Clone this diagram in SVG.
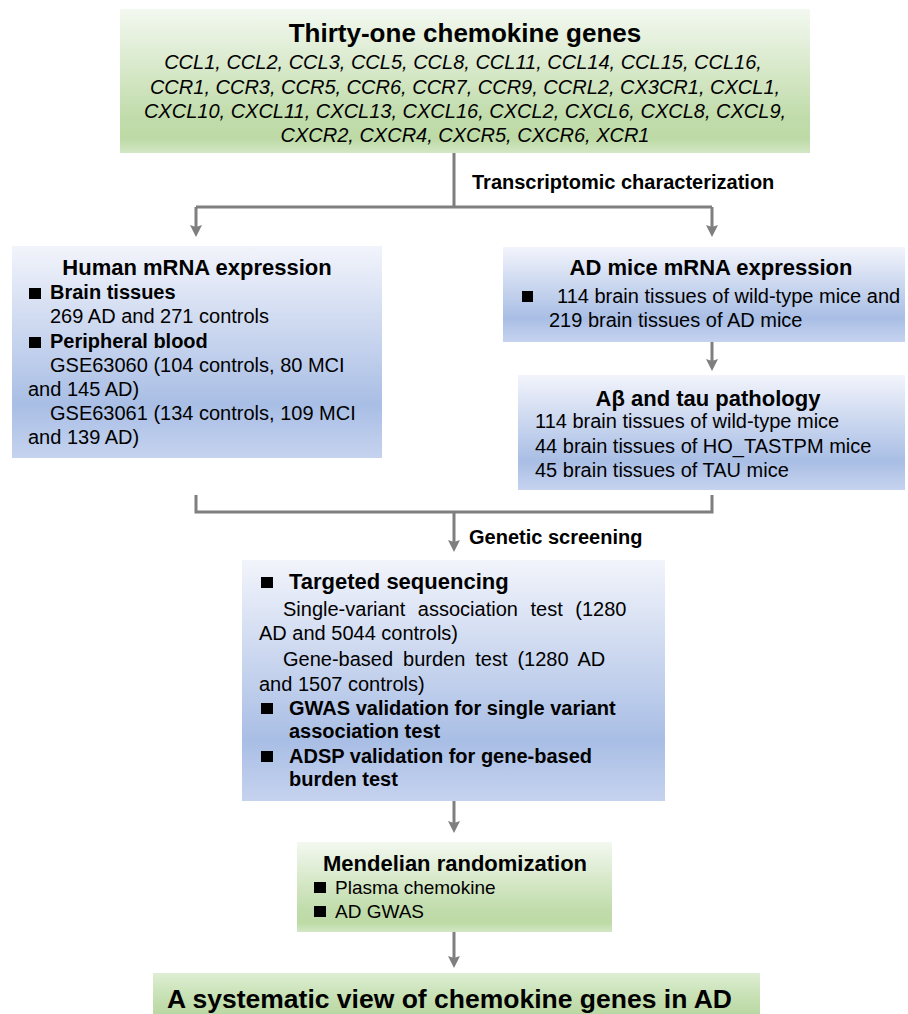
<svg xmlns="http://www.w3.org/2000/svg" width="908" height="1014" viewBox="0 0 908 1014">
<defs>
<linearGradient id="gGreen" x1="0" y1="0" x2="0" y2="1">
<stop offset="0" stop-color="#f3f8f0"/>
<stop offset="0.75" stop-color="#c1dcab"/>
<stop offset="0.9" stop-color="#bddaa6"/>
<stop offset="1" stop-color="#d3e7c5"/>
</linearGradient>
<linearGradient id="gFinal" x1="0" y1="0" x2="0" y2="1">
<stop offset="0" stop-color="#deeed3"/>
<stop offset="0.6" stop-color="#c6e0b3"/>
<stop offset="1" stop-color="#bad8a3"/>
</linearGradient>
<linearGradient id="gBlue" x1="0" y1="0" x2="0" y2="1">
<stop offset="0" stop-color="#f2f4fb"/>
<stop offset="0.75" stop-color="#a9bee5"/>
<stop offset="1" stop-color="#c6d3ef"/>
</linearGradient>
<marker id="arr" viewBox="0 0 12 12" refX="3" refY="6" markerWidth="12" markerHeight="12" markerUnits="userSpaceOnUse" orient="auto">
<path d="M0,0 L12,6 L0,12 L2,6 z" fill="#7f7f7f"/>
</marker>
<style>
text{font-family:"Liberation Sans",Arial,sans-serif;fill:#000;}
.t{font-size:22px;font-weight:bold;text-anchor:middle;}
.b{font-size:20px;font-weight:bold;}
.n{font-size:20px;}
.i{font-size:20px;font-style:italic;text-anchor:middle;}
.lab{font-size:20px;font-weight:bold;}
.sq{fill:#000;}
.c{fill:none;stroke:#7f7f7f;stroke-width:3;}
</style>
</defs>

<g id="connectors">
<path class="c" d="M454,153 V207 M196,207 H712"/>
<path class="c" d="M196,207 V228" marker-end="url(#arr)"/>
<path class="c" d="M712,207 V228" marker-end="url(#arr)"/>
<path class="c" d="M712,342 V362" marker-end="url(#arr)"/>
<path class="c" d="M196,495 V512 H712 V495"/>
<path class="c" d="M454,512 V543" marker-end="url(#arr)"/>
<path class="c" d="M454,801 V824" marker-end="url(#arr)"/>
<path class="c" d="M454,932 V959" marker-end="url(#arr)"/>
<text class="lab" x="472" y="189">Transcriptomic characterization</text>
<text class="lab" x="469" y="544">Genetic screening</text>
</g>

<g id="genes">
<rect x="120" y="9" width="690" height="144" fill="url(#gGreen)"/>
<text x="465" y="42" font-size="26" font-weight="bold" text-anchor="middle">Thirty-one chemokine genes</text>
<text class="i" x="463" y="69">CCL1, CCL2, CCL3, CCL5, CCL8, CCL11, CCL14, CCL15, CCL16,</text>
<text class="i" x="465" y="94">CCR1, CCR3, CCR5, CCR6, CCR7, CCR9, CCRL2, CX3CR1, CXCL1,</text>
<text class="i" x="465" y="118">CXCL10, CXCL11, CXCL13, CXCL16, CXCL2, CXCL6, CXCL8, CXCL9,</text>
<text class="i" x="465" y="142">CXCR2, CXCR4, CXCR5, CXCR6, XCR1</text>
</g>

<g id="human">
<rect x="12" y="246" width="370" height="212" fill="url(#gBlue)"/>
<text class="t" x="197" y="275">Human mRNA expression</text>
<rect class="sq" x="29" y="288" width="12" height="11"/>
<text class="b" x="50" y="299">Brain tissues</text>
<text class="n" x="50" y="323">269 AD and 271 controls</text>
<rect class="sq" x="29" y="337" width="12" height="11"/>
<text class="b" x="50" y="348">Peripheral blood</text>
<text class="n" x="50" y="372">GSE63060 (104 controls, 80 MCI</text>
<text class="n" x="28" y="396">and 145 AD)</text>
<text class="n" x="50" y="420">GSE63061 (134 controls, 109 MCI</text>
<text class="n" x="28" y="444">and 139 AD)</text>
</g>

<g id="mice">
<rect x="503" y="247" width="402" height="95" fill="url(#gBlue)"/>
<text class="t" x="711" y="275">AD mice mRNA expression</text>
<rect class="sq" x="522" y="291" width="11" height="11"/>
<text class="n" x="557" y="303">114 brain tissues of wild-type mice and</text>
<text class="n" x="549" y="327">219 brain tissues of AD mice</text>
</g>

<g id="pathology">
<rect x="518" y="375" width="387" height="115" fill="url(#gBlue)"/>
<text class="t" x="708" y="406">Aβ and tau pathology</text>
<text class="n" x="535" y="428">114 brain tissues of wild-type mice</text>
<text class="n" x="535" y="453">44 brain tissues of HO_TASTPM mice</text>
<text class="n" x="535" y="477">45 brain tissues of TAU mice</text>
</g>

<g id="screening">
<rect x="242" y="560" width="423" height="241" fill="url(#gBlue)"/>
<rect class="sq" x="261" y="577" width="12" height="11"/>
<text x="289" y="589" font-size="22" font-weight="bold">Targeted sequencing</text>
<text class="n" x="283" y="616" word-spacing="7">Single-variant association test (1280</text>
<text class="n" x="259" y="640">AD and 5044 controls)</text>
<text class="n" x="283" y="666" word-spacing="4.4">Gene-based burden test (1280 AD</text>
<text class="n" x="259" y="691">and 1507 controls)</text>
<rect class="sq" x="261" y="703" width="12" height="11"/>
<text class="b" x="289" y="715">GWAS validation for single variant</text>
<text class="b" x="289" y="738">association test</text>
<rect class="sq" x="261" y="751" width="12" height="11"/>
<text class="b" x="289" y="763">ADSP validation for gene-based</text>
<text class="b" x="289" y="786">burden test</text>
</g>

<g id="mr">
<rect x="297" y="842" width="315" height="90" fill="url(#gGreen)"/>
<text class="t" x="455" y="871">Mendelian randomization</text>
<rect class="sq" x="314" y="882" width="12" height="11"/>
<text x="335" y="894" font-size="19">Plasma chemokine</text>
<rect class="sq" x="314" y="906" width="12" height="11"/>
<text x="335" y="918" font-size="19">AD GWAS</text>
</g>

<g id="conclusion">
<rect x="153" y="973" width="607" height="41" fill="url(#gFinal)"/>
<text x="167" y="1008" font-size="26.4" font-weight="bold" textLength="565" lengthAdjust="spacingAndGlyphs">A systematic view of chemokine genes in AD</text>
</g>
</svg>
